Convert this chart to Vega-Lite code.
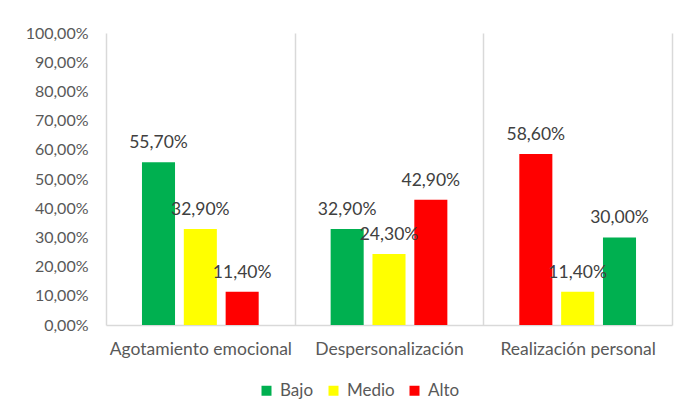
{
  "$schema": "https://vega.github.io/schema/vega-lite/v6.json",
  "autosize": "none",
  "padding": {"left": 106, "top": 33, "right": 11, "bottom": 90},
  "width": 566,
  "height": 292,
  "background": "white",
  "data": {
    "values": [
      {"dimension": "Agotamiento emocional", "serie": "Bajo", "nivel": "Bajo", "valor": 0.557},
      {"dimension": "Agotamiento emocional", "serie": "Medio", "nivel": "Medio", "valor": 0.329},
      {"dimension": "Agotamiento emocional", "serie": "Alto", "nivel": "Alto", "valor": 0.114},
      {"dimension": "Despersonalización", "serie": "Bajo", "nivel": "Bajo", "valor": 0.329},
      {"dimension": "Despersonalización", "serie": "Medio", "nivel": "Medio", "valor": 0.243},
      {"dimension": "Despersonalización", "serie": "Alto", "nivel": "Alto", "valor": 0.429},
      {"dimension": "Realización personal", "serie": "Bajo", "nivel": "Alto", "valor": 0.586},
      {"dimension": "Realización personal", "serie": "Medio", "nivel": "Medio", "valor": 0.114},
      {"dimension": "Realización personal", "serie": "Alto", "nivel": "Bajo", "valor": 0.3}
    ]
  },
  "encoding": {
    "x": {
      "field": "dimension", "type": "nominal",
      "sort": ["Agotamiento emocional", "Despersonalización", "Realización personal"],
      "scale": {"paddingInner": 0, "paddingOuter": 0},
      "axis": {
        "title": null, "labelAngle": 0, "grid": true, "tickBand": "extent", "ticks": false,
        "domainColor": "#d9d9d9", "gridColor": "#d9d9d9", "domainWidth": 1.5, "gridWidth": 1.5,
        "labelFont": "Lato", "labelFontSize": 17.5, "labelColor": "#595959", "labelPadding": 15,
        "labelLimit": 0, "labelOverlap": false
      }
    },
    "xOffset": {
      "field": "serie", "type": "nominal", "sort": ["Bajo", "Medio", "Alto"],
      "scale": {"paddingInner": 0.21, "paddingOuter": 0.86}
    },
    "y": {
      "field": "valor", "type": "quantitative",
      "scale": {"domain": [0, 1]},
      "axis": {
        "title": null, "format": ".2%", "values": [0, 0.1, 0.2, 0.3, 0.4, 0.5, 0.6, 0.7, 0.8, 0.9, 1],
        "grid": false, "domain": false, "ticks": false, "labelPadding": 18,
        "labelFont": "Lato", "labelFontSize": 16, "labelColor": "#595959"
      }
    }
  },
  "layer": [
    {
      "mark": {"type": "bar"},
      "encoding": {
        "color": {
          "field": "nivel", "type": "nominal",
          "scale": {"domain": ["Bajo", "Medio", "Alto"], "range": ["#00B050", "#FFFF00", "#FF0000"]},
          "legend": {
            "title": null, "orient": "none", "direction": "horizontal",
            "legendX": 152, "legendY": 349,
            "symbolType": "square", "symbolSize": 100, "symbolStrokeWidth": 0,
            "symbolOpacity": 1, "columnPadding": 11, "labelOffset": 5,
            "labelFont": "Lato", "labelFontSize": 17, "labelColor": "#595959", "padding": 0
          }
        }
      }
    },
    {
      "mark": {"type": "text", "dy": -19, "baseline": "middle", "font": "Lato", "fontSize": 17.5, "color": "#404040"},
      "encoding": {
        "text": {"field": "valor", "type": "quantitative", "format": ".2%"}
      }
    }
  ],
  "config": {
    "locale": {"number": {"decimal": ",", "thousands": ".", "grouping": [3], "currency": ["", " €"]}},
    "view": {"stroke": null}
  }
}
